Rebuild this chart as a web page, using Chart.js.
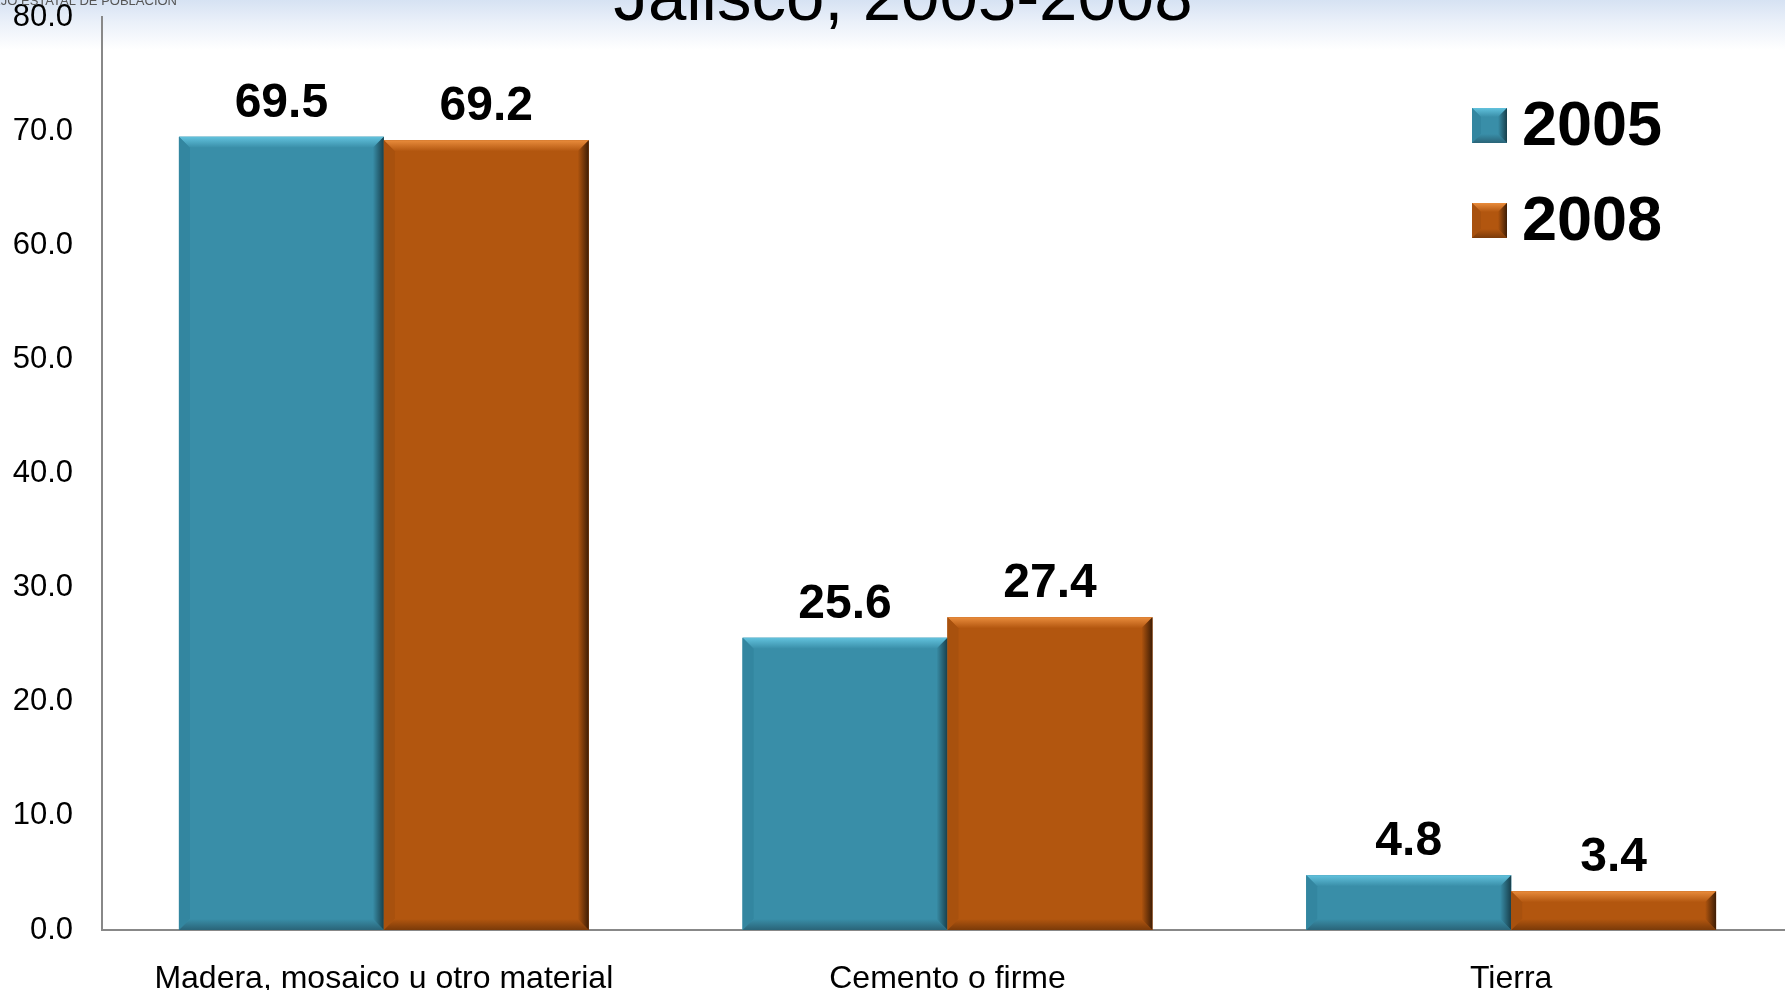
<!DOCTYPE html>
<html>
<head>
<meta charset="utf-8">
<script src="https://cdn.jsdelivr.net/npm/chart.js@4.4.1/dist/chart.umd.min.js"></script>
<style>
html, body { margin: 0; padding: 0; background: #fff; overflow: hidden; }
#wrap {
  position: relative; width: 1793px; height: 990px;
  background: linear-gradient(to bottom, #d6e2f3 0px, #eaf0f9 22px, #ffffff 50px, #ffffff 100%);
}
</style>
</head>
<body>
<div id="wrap"><canvas id="chart"></canvas></div>
<script>
const categories = ['Madera, mosaico u otro material', 'Cemento o firme', 'Tierra'];
const years = ['2005', '2008'];
const values2005 = [69.5, 25.6, 4.8];
const values2008 = [69.2, 27.4, 3.4];
const titleText = 'Jalisco, 2005-2008';
const sourceText = 'CONSEJO ESTATAL DE POBLACION';

// main, light top, dark right, dark bottom, left
const teal = { main: '#398ea8', top: '#62c2dd', right: '#183f4b', bottom: '#2a6478', left: '#3386a0' };
const orange = { main: '#b2560f', top: '#e98c3c', right: '#3e1d05', bottom: '#7a3a09', left: '#a8510e' };
const palettes = [teal, orange];
const FONT = "'Liberation Sans', Arial, sans-serif";

function bevel(ctx, l, t, r, b, pal, bw) {
  const h = b - t;
  const k = Math.min(bw, h / 2, (r - l) / 2);
  ctx.save();
  ctx.fillStyle = pal.main;
  ctx.fillRect(l, t, r - l, h);
  // top
  let g = ctx.createLinearGradient(0, t, 0, t + k);
  g.addColorStop(0, pal.top);
  g.addColorStop(1, pal.main);
  ctx.fillStyle = g;
  ctx.beginPath();
  ctx.moveTo(l, t); ctx.lineTo(r, t); ctx.lineTo(r - k, t + k); ctx.lineTo(l + k, t + k); ctx.closePath();
  ctx.fill();
  // left
  ctx.fillStyle = pal.left;
  ctx.beginPath();
  ctx.moveTo(l, t); ctx.lineTo(l + k, t + k); ctx.lineTo(l + k, b - k); ctx.lineTo(l, b); ctx.closePath();
  ctx.fill();
  // bottom
  g = ctx.createLinearGradient(0, b - k, 0, b);
  g.addColorStop(0, pal.main);
  g.addColorStop(1, pal.bottom);
  ctx.fillStyle = g;
  ctx.beginPath();
  ctx.moveTo(l, b); ctx.lineTo(r, b); ctx.lineTo(r - k, b - k); ctx.lineTo(l + k, b - k); ctx.closePath();
  ctx.fill();
  // right
  g = ctx.createLinearGradient(r - k, 0, r, 0);
  g.addColorStop(0, pal.main);
  g.addColorStop(1, pal.right);
  ctx.fillStyle = g;
  ctx.beginPath();
  ctx.moveTo(r, t); ctx.lineTo(r, b); ctx.lineTo(r - k, b - k); ctx.lineTo(r - k, t + k); ctx.closePath();
  ctx.fill();
  ctx.restore();
}

const decorPlugin = {
  id: 'decor',
  afterDatasetsDraw(chart) {
    const ctx = chart.ctx;
    chart.data.datasets.forEach((ds, i) => {
      const meta = chart.getDatasetMeta(i);
      meta.data.forEach((el, j) => {
        const p = el.getProps(['x', 'y', 'base', 'width'], true);
        const l = p.x - p.width / 2, r = p.x + p.width / 2;
        bevel(ctx, l, p.y, r, p.base, palettes[i], 11);
        ctx.save();
        ctx.font = 'bold 48px ' + FONT;
        ctx.fillStyle = '#000';
        ctx.textAlign = 'center';
        ctx.textBaseline = 'alphabetic';
        ctx.fillText(ds.data[j].toFixed(1), p.x, p.y - 20);
        ctx.restore();
      });
    });
  },
  afterDraw(chart) {
    const ctx = chart.ctx;
    ctx.save();
    // title (cut off at top)
    ctx.font = '69px ' + FONT;
    ctx.fillStyle = '#000';
    ctx.textAlign = 'center';
    ctx.textBaseline = 'alphabetic';
    ctx.fillText(titleText, 903, 20);
    // source text
    ctx.font = '13px ' + FONT;
    ctx.fillStyle = '#555';
    ctx.textAlign = 'right';
    ctx.fillText(sourceText, 177, 5);
    // legend
    chart.data.datasets.forEach((ds, i) => {
      const top = 108 + i * 95;
      bevel(ctx, 1472, top, 1507, top + 35, palettes[i], 9);
      ctx.font = 'bold 63px ' + FONT;
      ctx.fillStyle = '#000';
      ctx.textAlign = 'left';
      ctx.textBaseline = 'middle';
      ctx.fillText(ds.label, 1522, top + 20);
    });
    ctx.restore();
  }
};

new Chart(document.getElementById('chart'), {
  type: 'bar',
  data: {
    labels: categories,
    datasets: [
      { label: years[0], data: values2005, backgroundColor: teal.main, borderWidth: 0,
        categoryPercentage: 0.727, barPercentage: 1.0 },
      { label: years[1], data: values2008, backgroundColor: orange.main, borderWidth: 0,
        categoryPercentage: 0.727, barPercentage: 1.0 }
    ]
  },
  options: {
    responsive: true,
    maintainAspectRatio: false,
    animation: false,
    layout: { padding: 0 },
    plugins: {
      legend: { display: false },
      tooltip: { enabled: false }
    },
    scales: {
      x: {
        grid: { display: false, drawTicks: false },
        border: { color: '#888', width: 2 },
        ticks: { color: '#000', font: { family: FONT, size: 32 }, padding: 30 },
        afterFit(s) { s.height = 60; }
      },
      y: {
        min: 0,
        max: 80,
        grid: { display: false, drawTicks: false },
        border: { color: '#888', width: 2 },
        ticks: {
          stepSize: 10,
          color: '#000',
          font: { family: FONT, size: 31 },
          padding: 29,
          callback: (v) => Number(v).toFixed(1)
        },
        afterFit(s) {
          s.width = 102;
          s.paddingTop = 17;
          s.paddingBottom = 0;
        }
      }
    }
  },
  plugins: [decorPlugin]
});
</script>
</body>
</html>
